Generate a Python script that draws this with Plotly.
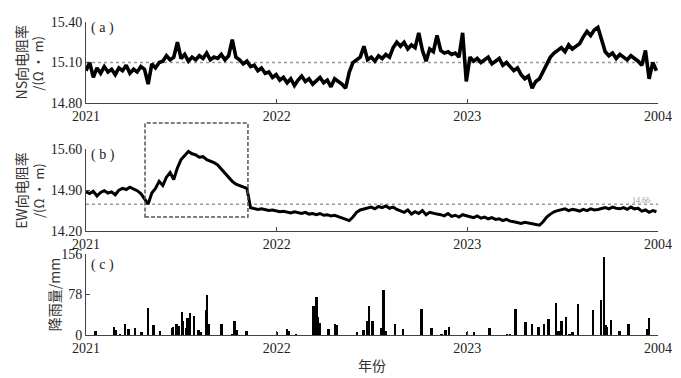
import pandas as pd
import plotly.graph_objects as go

# ---------------- data ----------------
start_date = "2021-01-01"
step_days = 7
ns_resistivity = [
    15.04, 15.10, 14.99, 15.06, 15.02, 15.07, 15.03, 15.05, 15.01, 15.06, 15.04, 15.08, 15.02, 15.05, 15.03, 15.07, 15.05,
    14.94,
    15.09, 15.06, 15.10,
    15.11, 15.15, 15.12,
    15.14,
    15.25,
    15.13, 15.16, 15.11, 15.14, 15.12, 15.15, 15.13, 15.17, 15.12, 15.14, 15.13, 15.16, 15.12, 15.15,
    15.27,
    15.14, 15.12, 15.09, 15.11,
    15.07, 15.08, 15.04, 15.06, 15.02, 15.03, 14.99, 15.01,
    14.97, 14.99, 14.95, 14.98, 14.93, 14.97, 15.00, 14.96, 14.98, 14.94, 14.97, 14.99, 14.95, 14.97, 14.92, 14.98, 14.96, 14.94, 14.91,
    15.03, 15.10,
    15.12, 15.14,
    15.22,
    15.12, 15.14, 15.11, 15.15, 15.13, 15.16, 15.14,
    15.21, 15.25,
    15.22, 15.25, 15.20, 15.23, 15.21, 15.32, 15.19, 15.11, 15.20, 15.18, 15.30, 15.19, 15.17, 15.18,
    15.16, 15.17, 15.14,
    15.32,
    14.96,
    15.14, 15.11, 15.13, 15.10, 15.12, 15.14, 15.09, 15.11, 15.13, 15.08, 15.10, 15.07,
    15.04, 15.06, 15.01, 14.98, 15.00, 14.91, 14.96, 14.98,
    15.03, 15.09, 15.14, 15.17, 15.19,
    15.21, 15.18, 15.23, 15.20, 15.22, 15.24,
    15.29, 15.33, 15.30, 15.34, 15.36,
    15.26,
    15.18,
    15.15, 15.17, 15.13, 15.16, 15.14, 15.12, 15.15, 15.13, 15.11,
    15.08, 15.19, 14.98, 15.10, 15.04,
]
ew_resistivity = [
    14.87, 14.84, 14.88, 14.80, 14.86, 14.89, 14.85, 14.87, 14.82, 14.90, 14.93, 14.91, 14.95, 14.92,
    14.89, 14.84,
    14.74, 14.66,
    14.85, 14.93,
    15.05, 14.98, 15.12,
    15.20, 15.08, 15.28,
    15.42,
    15.50, 15.56, 15.52,
    15.50, 15.46, 15.47, 15.42, 15.40, 15.37,
    15.33, 15.26,
    15.19, 15.11, 15.05,
    15.00, 14.98, 14.96, 14.93,
    14.60,
    14.58, 14.57, 14.58, 14.56, 14.55, 14.56, 14.54, 14.53, 14.54, 14.52, 14.51, 14.53, 14.51,
    14.50, 14.52, 14.49, 14.50, 14.48, 14.50, 14.47, 14.48, 14.46, 14.47, 14.45,
    14.43, 14.40, 14.38, 14.44,
    14.52, 14.56, 14.58,
    14.59, 14.61, 14.58, 14.62, 14.60, 14.63, 14.59, 14.61, 14.57,
    14.55, 14.52, 14.56, 14.49, 14.53, 14.50, 14.55, 14.48, 14.52, 14.50, 14.49,
    14.48, 14.46, 14.50, 14.45, 14.47, 14.44, 14.48, 14.46,
    14.45, 14.43, 14.46, 14.42, 14.44, 14.41, 14.43, 14.40, 14.41, 14.38, 14.40, 14.37,
    14.36, 14.35, 14.33, 14.35, 14.34, 14.32, 14.31, 14.30,
    14.36, 14.44, 14.49, 14.53, 14.55,
    14.56, 14.58, 14.55, 14.57, 14.56, 14.54, 14.57, 14.55, 14.58, 14.56, 14.57,
    14.59, 14.60, 14.58, 14.61, 14.59, 14.58, 14.60, 14.57, 14.61, 14.58, 14.59,
    14.54, 14.56, 14.52, 14.55, 14.53,
]
# rainfall: day offset from 2021-01-01, amount (mm)
rain_day = [19, 54, 57, 65, 75, 82, 94, 107, 119, 130, 142, 165, 167, 174, 178, 184, 186, 193, 195, 199,
            207, 216, 220, 230, 232, 235, 260, 281, 285, 289, 308,
            366, 385, 389, 402, 436, 442, 444, 448, 465, 477, 480, 519, 532, 538, 542, 549, 565, 570, 574,
            592, 607, 643, 662, 681, 689, 695,
            730, 743, 773, 806, 812, 823, 842, 854, 867, 877, 886, 900, 905, 911, 919, 926, 932, 942,
            971, 986, 992, 995, 997, 1005, 1022, 1039, 1074, 1078]
rain_mm = [8, 16, 10, 3, 21, 11, 13, 5, 53, 19, 8, 13, 16, 22, 17, 45, 27, 14, 32, 42,
           37, 10, 6, 49, 78, 21, 22, 3, 27, 10, 8,
           5, 11, 8, 2, 55, 74, 35, 24, 12, 21, 19, 5, 10, 27, 56, 28, 14, 86, 8,
           21, 12, 50, 14, 3, 9, 16,
           5, 5, 13, 2, 2, 51, 25, 21, 15, 21, 30, 61, 8, 28, 34, 3, 6, 60,
           48, 68, 150, 19, 15, 29, 8, 21, 11, 32]

ns_reference = 15.10
ew_reference = 14.66
highlight_start = "2021-04-24"
highlight_end = "2021-11-07"

tick_dates = ["2021-01-01", "2022-01-01", "2023-01-01", "2024-01-01"]
tick_labels = ["2021", "2022", "2023", "2004"]

# ---------------- figure ----------------
t0 = pd.Timestamp(start_date)
dates_ns = [t0 + pd.Timedelta(days=step_days * i) for i in range(len(ns_resistivity))]
dates_ew = [t0 + pd.Timedelta(days=step_days * i) for i in range(len(ew_resistivity))]
rain_dates = [t0 + pd.Timedelta(days=d) for d in rain_day]

SERIF = "Liberation Serif, Times New Roman, Noto Sans CJK SC, serif"
CJK = "Noto Sans CJK SC, Liberation Serif, serif"
AXC = "#444444"

fig = go.Figure()
fig.add_trace(go.Scatter(x=dates_ns, y=ns_resistivity, mode="lines",
                         line=dict(color="black", width=3.6), xaxis="x", yaxis="y", showlegend=False))
fig.add_trace(go.Scatter(x=dates_ew, y=ew_resistivity, mode="lines",
                         line=dict(color="black", width=3.0), xaxis="x2", yaxis="y2", showlegend=False))
fig.add_trace(go.Bar(x=rain_dates, y=rain_mm, width=3.6 * 86400000,
                     marker=dict(color="black", line=dict(width=0)), xaxis="x3", yaxis="y3", showlegend=False))

def xax(anchor):
    return dict(type="date", range=[tick_dates[0], tick_dates[-1]], tickvals=tick_dates, ticktext=tick_labels,
                showline=True, linecolor=AXC, linewidth=1, ticks="inside", ticklen=4, tickcolor=AXC,
                showgrid=False, zeroline=False, anchor=anchor, automargin=False,
                tickfont=dict(family=SERIF, size=14, color="#222"))

def yax(dom, rng, tv, tt, anchor):
    return dict(domain=dom, range=rng, tickvals=tv, ticktext=tt, showline=True, linecolor=AXC, linewidth=1,
                ticks="inside", ticklen=4, tickcolor=AXC, showgrid=False, zeroline=False, anchor=anchor,
                automargin=False, tickfont=dict(family=SERIF, size=14, color="#222"))

# page body adds an 8px offset, so the figure is drawn 8px smaller
fig.update_layout(
    width=673, height=370,
    margin=dict(l=78, r=23, t=14, b=43),
    paper_bgcolor="white", plot_bgcolor="white",
    bargap=0,
    xaxis=xax("y"), yaxis=yax([0.741, 1.0], [14.80, 15.40], [14.80, 15.10, 15.40], ["14.80", "15.10", "15.40"], "x"),
    xaxis2=xax("y2"), yaxis2=yax([0.332, 0.594], [14.20, 15.60], [14.20, 14.90, 15.60], ["14.20", "14.90", "15.60"], "x2"),
    xaxis3=xax("y3"), yaxis3=yax([0.0, 0.259], [0, 156], [0, 78, 156], ["0", "78", "156"], "x3"),
)

# reference lines
fig.add_shape(type="line", xref="x domain", yref="y", x0=0, x1=1, y0=ns_reference, y1=ns_reference,
              line=dict(color="#9a9a9a", width=1.5, dash="dot"), layer="below")
fig.add_shape(type="line", xref="x2 domain", yref="y2", x0=0, x1=1, y0=ew_reference, y1=ew_reference,
              line=dict(color="#9a9a9a", width=1.5, dash="dot"), layer="below")
fig.add_annotation(xref="x2 domain", yref="y2", x=0.99, y=ew_reference, text=f"{ew_reference:.2f}",
                   showarrow=False, xanchor="right", yanchor="bottom", yshift=-3,
                   font=dict(family=SERIF, size=8, color="#9a9a9a"))

# highlight box
fig.add_shape(type="rect", xref="x2", yref="paper", x0=highlight_start, x1=highlight_end, y0=0.377, y1=0.677,
              line=dict(color="#555555", width=1.5, dash="4px,2px"), fillcolor="rgba(0,0,0,0)")

# panel labels
for lab, yp in [("( a )", 0.981), ("( b )", 0.575), ("( c )", 0.224)]:
    fig.add_annotation(xref="paper", yref="paper", x=0.006, y=yp, text=lab, showarrow=False,
                       xanchor="left", yanchor="middle", font=dict(family=SERIF, size=14, color="#222"))

# y titles
def ytitle(text, xp, yp, size=14):
    fig.add_annotation(xref="paper", yref="paper", x=xp, y=yp, text=text, textangle=-90, showarrow=False,
                       xanchor="center", yanchor="middle", font=dict(family=CJK, size=size, color="#333"))

ytitle("NS向电阻率", -0.114, 0.87)
ytitle("/(Ω · m)", -0.084, 0.87, 13)
ytitle("EW向电阻率", -0.114, 0.463)
ytitle("/(Ω · m)", -0.084, 0.463, 13)
ytitle("降雨量/mm", -0.056, 0.13)

fig.add_annotation(xref="paper", yref="paper", x=0.5, y=-0.096, text="年份", showarrow=False,
                   xanchor="center", yanchor="middle", font=dict(family=CJK, size=14, color="#333"))

fig.write_html("out.html")
